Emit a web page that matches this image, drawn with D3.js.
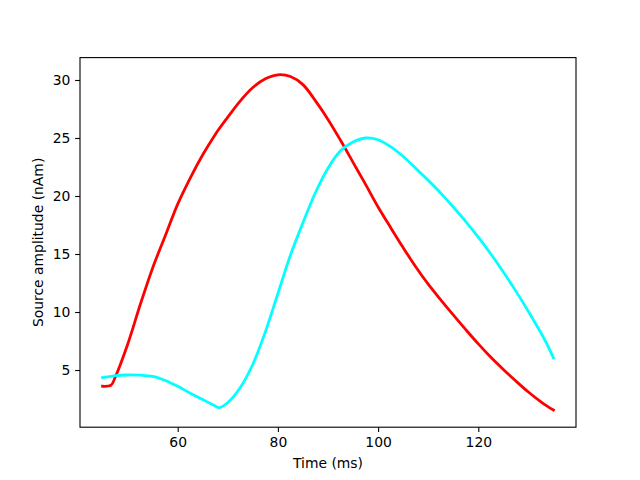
<!DOCTYPE html>
<html><head><meta charset="utf-8">
<script src="https://cdn.jsdelivr.net/npm/d3@7"></script>
<style>body{margin:0;background:#fff}svg{display:block}text{font-family:"DejaVu Sans",sans-serif}</style>
</head><body><svg id="c" width="640" height="480"></svg>
<script>
const times = [45,46.7,47.5,50,52.5,55,57.5,60,62.5,65,67.5,68.2,70,72.5,75,77.5,80,82.5,85,87.5,90,92.5,95,97.5,100,102.5,105,107.5,110,112.5,115,117.5,120,122.5,125,127.5,130,132.5,133.5,135];
const redValues = [3.6,3.7,4.35,7.2,10.6,13.8,16.55,19.3,21.55,23.55,25.3,25.75,26.8,28.2,29.35,30.1,30.45,30.3,29.6,28.2,26.6,24.8,22.9,21.0,19.05,17.28,15.55,13.9,12.4,11.05,9.75,8.48,7.25,6.1,5.05,4.05,3.1,2.25,1.95,1.55];
const cyanValues = [4.35,4.45,4.52,4.57,4.55,4.45,4.1,3.6,3.0,2.45,1.9,1.75,2.2,3.5,5.5,8.3,11.6,14.9,17.7,20.3,22.4,23.9,24.65,25.0,24.85,24.25,23.4,22.4,21.35,20.25,19.05,17.8,16.45,15.0,13.45,11.8,10.05,8.2,7.4,6.05];
const xTicks = [60,80,100,120];
const yTicks = [5,10,15,20,25,30];
const xLabel = "Time (ms)";
const yLabel = "Source amplitude (nAm)";

const svg = d3.select("#c");
const L=80, R=576, T=57.6, B=427.2;
const x = d3.scaleLinear().domain([40.5,139.5]).range([L,R]);
const y = d3.scaleLinear().domain([0.07,31.93]).range([B,T]);

const line = d3.line().x(d=>x(d[0])).y(d=>y(d[1])).curve(d3.curveCatmullRom.alpha(0.5));
svg.append("path").datum(times.map((t,i)=>[t,redValues[i]]))
  .attr("d",line).attr("fill","none").attr("stroke","#ff0000").attr("stroke-width",2.78).attr("stroke-linejoin","round").attr("stroke-linecap","square");
svg.append("path").datum(times.map((t,i)=>[t,cyanValues[i]]))
  .attr("d",line).attr("fill","none").attr("stroke","#00ffff").attr("stroke-width",2.78).attr("stroke-linejoin","round").attr("stroke-linecap","square");

const xa = svg.append("g").attr("transform",`translate(0,${B})`)
  .call(d3.axisBottom(x).tickValues(xTicks).tickSize(4.86).tickPadding(4.8).tickSizeOuter(0));
const ya = svg.append("g").attr("transform",`translate(${L},0)`)
  .call(d3.axisLeft(y).tickValues(yTicks).tickSize(4.86).tickPadding(4.8).tickSizeOuter(0));
[xa,ya].forEach(g=>{
  g.select(".domain").remove();
  g.selectAll("line").attr("stroke","#000").attr("stroke-width",1.1);
  g.selectAll("text").attr("font-size","13.9px").attr("fill","#000").attr("font-family","DejaVu Sans");
});
svg.append("rect").attr("x",L).attr("y",T).attr("width",R-L).attr("height",B-T)
  .attr("fill","none").attr("stroke","#000").attr("stroke-width",1.1);

svg.append("text").attr("x",(L+R)/2).attr("y",468).attr("text-anchor","middle")
  .attr("font-size","13.9px").text(xLabel);
svg.append("text").attr("transform",`translate(43,${(T+B)/2}) rotate(-90)`).attr("text-anchor","middle")
  .attr("font-size","13.9px").text(yLabel);
</script></body></html>
